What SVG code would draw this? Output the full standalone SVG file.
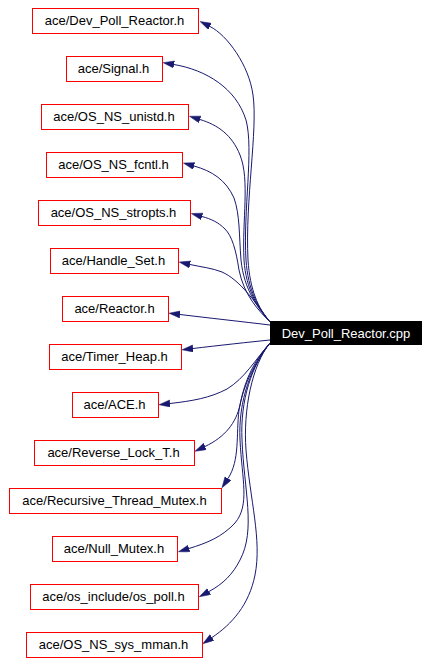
<svg xmlns="http://www.w3.org/2000/svg" width="431" height="663" viewBox="0 0 431 663">
<style>
.n rect{fill:#fff;stroke:#ff0000;stroke-width:1}
text{font-family:"Liberation Sans",Arial,sans-serif;font-size:13px;text-anchor:middle;fill:#000}
.e path{fill:none;stroke:#191970;stroke-width:1;marker-end:url(#ah)}
</style>
<defs>
<marker id="ah" markerUnits="userSpaceOnUse" markerWidth="12" markerHeight="8" refX="0" refY="3.5" orient="auto" viewBox="0 0 12 8">
<path d="M0,0 L11,3.5 L0,7 z" fill="#191970" stroke="#191970" stroke-width="0.5"/>
</marker>
</defs>
<rect width="431" height="663" fill="#fff"/>
<g id="edges" class="e">
<path d="M270,322 C258,308 250,290 248,260 C245,200 258,130 253,95 C249,65 227,35 210,26.5"/>
<path d="M270,322 C258,308 248,290 246,260 C243,210 254,150 246,120 C236,88 206,70 174,64.5"/>
<path d="M270,322 C258,308 246,290 244,260 C242,220 250,180 240,155 C232,135 218,125 200,119.5"/>
<path d="M270,322 C258,308 244,290 241,260 C239,235 240,215 234,198 C226,180 212,171 194,166"/>
<path d="M270,322 C258,310 244,295 239,270 C236,250 232,236 225,229 C218,222 211,219 202,216.5"/>
<path d="M270,322 C255,302 240,280 222,272 C212,268 201,267 190,264.5"/>
<path d="M270,325 C245,322 205,317.5 180,314.5"/>
<path d="M270,340 C250,342 218,345.5 193,348.5"/>
<path d="M270,343 C255,360 245,378 227,389 C210,398 192,401 170,403.5"/>
<path d="M270,343 C255,360 245,378 240,405 C236,423 225,437 205,446.5"/>
<path d="M270,343 C255,362 243,385 239,410 C236,435 240,460 228,478.5"/>
<path d="M270,343 C252,365 238,400 240,440 C242,480 250,505 235,523 C222,537 207,543 189,548.5"/>
<path d="M270,343 C252,365 240,400 242,440 C244,490 256,530 240,560 C233,574 223,584 209,591.5"/>
<path d="M270,343 C252,365 243,410 246,450 C250,500 262,540 255,575 C249,605 232,624 212,637.5"/>
</g>
<g id="main">
<rect x="270" y="321" width="152" height="24" fill="#000"/>
<text x="346" y="337.5" fill="#fff" style="fill:#fff">Dev_Poll_Reactor.cpp</text>
</g>
<g id="n1" class="n"><rect x="32.5" y="8.5" width="166" height="25"/><text x="114.5" y="25">ace/Dev_Poll_Reactor.h</text></g>
<g id="n2" class="n"><rect x="66.5" y="56.5" width="96" height="25"/><text x="113.5" y="73">ace/Signal.h</text></g>
<g id="n3" class="n"><rect x="41.5" y="104.5" width="147" height="25"/><text x="114" y="121">ace/OS_NS_unistd.h</text></g>
<g id="n4" class="n"><rect x="46.5" y="152.5" width="136" height="25"/><text x="113.5" y="169">ace/OS_NS_fcntl.h</text></g>
<g id="n5" class="n"><rect x="38.5" y="200.5" width="152" height="25"/><text x="113.5" y="217">ace/OS_NS_stropts.h</text></g>
<g id="n6" class="n"><rect x="50.5" y="248.5" width="128" height="25"/><text x="113.5" y="265">ace/Handle_Set.h</text></g>
<g id="n7" class="n"><rect x="62.5" y="296.5" width="106" height="25"/><text x="114.5" y="313">ace/Reactor.h</text></g>
<g id="n8" class="n"><rect x="49.5" y="344.5" width="132" height="25"/><text x="114.5" y="361">ace/Timer_Heap.h</text></g>
<g id="n9" class="n"><rect x="72.5" y="392.5" width="86" height="25"/><text x="114.5" y="409">ace/ACE.h</text></g>
<g id="n10" class="n"><rect x="34.5" y="440.5" width="160" height="25"/><text x="113.5" y="457">ace/Reverse_Lock_T.h</text></g>
<g id="n11" class="n"><rect x="9.5" y="488.5" width="212" height="25"/><text x="114.5" y="505">ace/Recursive_Thread_Mutex.h</text></g>
<g id="n12" class="n"><rect x="52.5" y="536.5" width="125" height="25"/><text x="114" y="553">ace/Null_Mutex.h</text></g>
<g id="n13" class="n"><rect x="30.5" y="584.5" width="168" height="25"/><text x="113.5" y="601">ace/os_include/os_poll.h</text></g>
<g id="n14" class="n"><rect x="26.5" y="632.5" width="176" height="25"/><text x="113.5" y="649">ace/OS_NS_sys_mman.h</text></g>
</svg>
